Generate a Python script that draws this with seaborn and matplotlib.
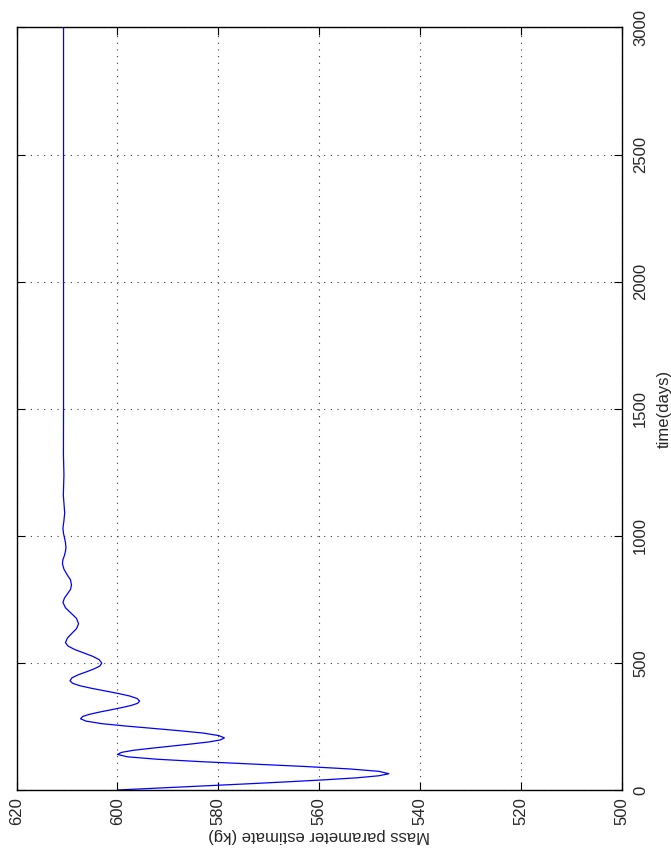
import matplotlib
matplotlib.use("Agg")
import matplotlib.pyplot as plt
import seaborn as sns
import pandas as pd

# Estimated mass parameter (kg) over time (days): damped convergence toward ~610.7 kg
time_days = [0, 8, 16, 24, 32, 40, 48, 56, 64,
             73.5, 83, 92.5, 102, 111.5, 121, 130.5, 140,
             148, 156, 164, 172.5, 181, 189, 197, 205,
             214, 224, 233, 242.5, 252, 261, 271, 280,
             289, 297.5, 306, 315, 324, 332.5, 341, 350,
             360, 370, 380, 390, 400, 410, 420, 430,
             441.5, 453, 464.5, 476, 487.5, 499,
             512.5, 526, 539.5, 553, 566.5, 580,
             598, 617, 635, 654,
             675, 696, 717, 738,
             755, 772, 789, 806,
             827, 848, 869, 890,
             906, 923, 939, 955,
             974, 993, 1011, 1030,
             1060, 1090, 1160, 1240, 1320, 1500, 3000]
mass_kg = [600.0, 591.5, 583.0, 574.5, 566.5, 559.0, 552.5, 548.2, 546.2,
           548.2, 554.1, 562.8, 573.1, 583.4, 592.1, 598.0, 600.0,
           599.2, 596.9, 593.4, 589.4, 585.4, 581.9, 579.6, 578.8,
           579.9, 583.0, 587.6, 593.0, 598.5, 603.1, 606.2, 607.3,
           606.9, 605.6, 603.7, 601.4, 599.2, 597.3, 596.0, 595.6,
           596.1, 597.6, 599.9, 602.5, 605.1, 607.4, 608.9, 609.4,
           609.0, 607.8, 606.2, 604.7, 603.5, 603.1,
           603.6, 604.9, 606.7, 608.5, 609.8, 610.3,
           609.9, 609.0, 608.1, 607.7,
           608.1, 609.2, 610.3, 610.8,
           610.5, 609.9, 609.3, 609.1,
           609.3, 610.0, 610.6, 610.9,
           610.8, 610.5, 610.3, 610.2,
           610.3, 610.5, 610.7, 610.8,
           610.6, 610.45, 610.72, 610.6, 610.7, 610.68, 610.68]

mass_ticks = [620, 600, 580, 560, 540, 520, 500]
time_ticks = [0, 500, 1000, 1500, 2000, 2500, 3000]

df = pd.DataFrame({"time": time_days, "mass": mass_kg})

sns.set_style("white")
plt.rcParams["font.family"] = ["Liberation Sans", "DejaVu Sans"]
plt.rcParams["font.size"] = 12

fig = plt.figure(figsize=(6.71, 8.56), dpi=100)
ax = fig.add_axes([0.0246, 0.0771, 0.9024, 0.8908])

sns.lineplot(data=df, x="mass", y="time", orient="y", sort=False,
             estimator=None, color="#0000ff", linewidth=0.9, ax=ax)

ax.set_xlim(620, 500)
ax.set_ylim(0, 3000)
ax.set_xticks(mass_ticks)
ax.set_yticks(time_ticks)
ax.set_xticklabels([str(v) for v in mass_ticks], rotation=90)
ax.set_yticklabels([str(v) for v in time_ticks], rotation=90, va="center")

ax.yaxis.tick_right()
ax.yaxis.set_label_position("right")
ax.tick_params(axis="both", which="major", direction="in", length=6,
               width=0.8, color="black", labelsize=12,
               top=True, bottom=True, left=True, right=True)
ax.tick_params(axis="x", pad=5)
ax.tick_params(axis="y", pad=8)

ax.grid(True, color="0.25", linestyle=(0, (1, 5)), linewidth=0.8)
for s in ax.spines.values():
    s.set_visible(True)
    s.set_color("black")
    s.set_linewidth(1.0)

ax.set_xlabel("Mass parameter estimate (kg)", rotation=180, labelpad=2)
ax.set_ylabel("time(days)", rotation=90, labelpad=6)

fig.savefig("out.png", dpi=100, facecolor="white")
